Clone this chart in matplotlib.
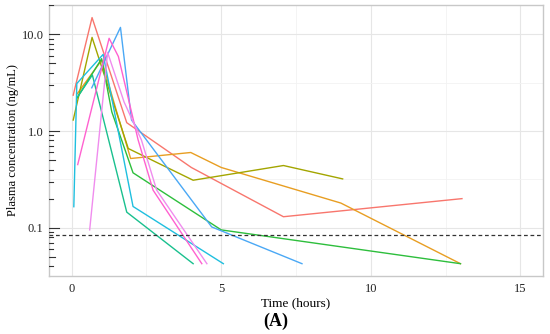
import numpy as np
import matplotlib
matplotlib.use("Agg")
import matplotlib.pyplot as plt

plt.rcParams['font.family'] = ['Liberation Serif', 'DejaVu Serif']

# Perfiles individuales (tiempo en horas, concentración en ng/mL)
t_salmon = [0.05, 0.68, 1.84, 4.0, 7.08, 13.05]
c_salmon = [2.35, 14.9, 1.22, 0.42, 0.13, 0.20]

t_orange = [0.17, 1.0, 1.5, 1.97, 3.98, 5.0, 9.0, 13.0]
c_orange = [2.4, 5.4, 1.6, 0.52, 0.60, 0.42, 0.18, 0.0425]

t_olive = [0.05, 0.68, 1.89, 4.06, 7.08, 9.06]
c_olive = [1.3, 9.3, 0.66, 0.31, 0.44, 0.32]

t_green = [0.18, 1.0, 1.34, 2.05, 5.0, 13.0]
c_green = [2.2, 5.6, 1.58, 0.37, 0.095, 0.0425]

t_teal = [0.2, 0.69, 1.84, 4.06]
c_teal = [2.27, 3.8, 0.145, 0.0425]

t_cyan = [0.07, 0.17, 1.05, 2.05, 5.07]
c_cyan = [0.165, 3.1, 6.2, 0.166, 0.0425]

t_blue = [0.67, 1.63, 2.0, 4.68, 7.7]
c_blue = [2.8, 11.8, 1.3, 0.102, 0.0425]

t_pink1 = [0.2, 1.25, 1.56, 2.22, 2.72, 4.35]
c_pink1 = [0.45, 9.1, 5.9, 0.81, 0.245, 0.0425]

t_pink2 = [0.6, 1.2, 1.75, 2.33, 2.84, 4.52]
c_pink2 = [0.095, 6.5, 2.0, 0.81, 0.245, 0.0425]

lloq = 0.084

series = [
    (t_salmon, c_salmon, '#F8766D'),
    (t_orange, c_orange, '#E89E22'),
    (t_olive, c_olive, '#A3A500'),
    (t_green, c_green, '#2DBE3C'),
    (t_teal, c_teal, '#19C08E'),
    (t_cyan, c_cyan, '#1FBFDF'),
    (t_blue, c_blue, '#4AA8F5'),
    (t_pink1, c_pink1, '#FF61D0'),
    (t_pink2, c_pink2, '#F08CEE'),
]

fig = plt.figure(figsize=(5.5, 3.34), dpi=100)
ax = fig.add_axes([49.3 / 550, 1 - 276 / 334, (542.7 - 49.3) / 550, (276 - 5) / 334])

ax.set_yscale('log')
ax.set_xlim(-0.75, 15.75)
lo, hi = np.log10(0.0425), np.log10(15.0)
pad = (hi - lo) * 0.05
ax.set_ylim(10 ** (lo - pad), 10 ** (hi + pad))

# rejilla estilo ggplot
for x in [0, 5, 10, 15]:
    ax.axvline(x, color='#E6E6E6', lw=0.8, zorder=0)
for x in [2.5, 7.5, 12.5]:
    ax.axvline(x, color='#F2F2F2', lw=0.6, zorder=0)
for y in [0.1, 1, 10]:
    ax.axhline(y, color='#E6E6E6', lw=0.8, zorder=0)
for y in [10 ** -0.5, 10 ** 0.5]:
    ax.axhline(y, color='#F2F2F2', lw=0.6, zorder=0)

for t, c, col in series:
    ax.plot(t, c, color=col, lw=1.0, zorder=2)

ax.axhline(lloq, color='#333333', lw=0.9, ls=(0, (3, 2.2)), zorder=3)

# marcas logarítmicas dentro del panel
for dec in [0.01, 0.1, 1, 10]:
    for k in range(1, 10):
        y = dec * k
        if k == 1:
            L = 0.020
        elif k == 5:
            L = 0.012
        else:
            L = 0.008
        ax.plot([0, L], [y, y], transform=ax.get_yaxis_transform(), color='#333333',
                lw=0.8, clip_on=True, zorder=4)

ax.set_xticks([0, 5, 10, 15])
ax.set_xticklabels(['0', '5', '10', '15'])
ax.set_yticks([0.1, 1, 10])
ax.set_yticklabels(['0.1', '1.0', '10.0'])
ax.yaxis.set_minor_locator(matplotlib.ticker.NullLocator())
ax.tick_params(axis='both', length=0, labelsize=9, colors='#222222', pad=5)
ax.tick_params(axis='y', pad=4)

for s in ax.spines.values():
    s.set_color('#C8C8C8')
    s.set_linewidth(1.0)

ax.set_xlabel('Time (hours)', fontsize=9.5, labelpad=2)
ax.set_ylabel('Plasma concentration (ng/mL)', fontsize=9, labelpad=2)

fig.text(0.502, 1 - 321.7 / 334, '(A)', ha='center', va='center', fontsize=13,
         fontweight='bold')

fig.savefig('out.png', dpi=100)
